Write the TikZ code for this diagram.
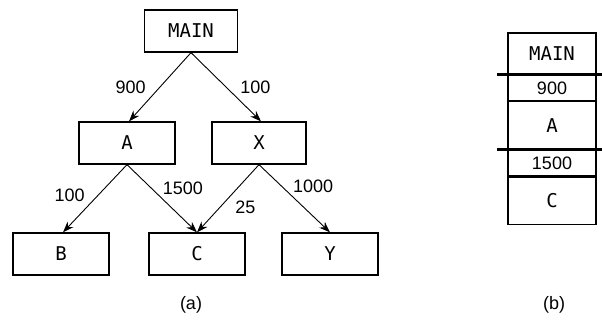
\documentclass[tikz,border=0pt]{standalone}
\usepackage{fontspec}
\setmainfont{Liberation Sans}
\newfontfamily\boxfont{DejaVu Sans Mono}
\usetikzlibrary{arrows.meta,positioning}
\tikzset{every picture/.style={line width=0.75pt}}
\tikzset{
  prog/.style={draw,line width=1.3pt,minimum width=96pt,minimum height=42pt,inner sep=0pt,
    font=\boxfont\fontsize{19}{22}\selectfont},
  cell/.style={draw,line width=1.3pt,minimum width=88pt,inner sep=0pt,
    font=\boxfont\fontsize{19}{22}\selectfont},
  call/.style={-{Stealth[length=11pt,width=8pt]},line width=0.9pt},
  cnt/.style={font=\fontsize{18}{21}\selectfont,inner sep=0pt}
}

\begin{document}
\begin{tikzpicture}[x=1pt,y=-1pt]
    \useasboundingbox (0,0) rectangle (602,325);

    % Call graph (a)
    \node[prog,minimum width=93pt] (main) at (191,31) {MAIN};
    \node[prog] (a) at (127,143) {A};
    \node[prog,minimum width=94pt] (x) at (259,143) {X};
    \node[prog] (b) at (61,254) {B};
    \node[prog] (c) at (197,254) {C};
    \node[prog] (y) at (330,254) {Y};

    \draw[call] (main.south) -- node[cnt,pos=0.5,left=14pt] {900} ([xshift=2pt]a.north);
    \draw[call] (main.south) -- node[cnt,pos=0.5,right=14pt] {100} ([xshift=2pt]x.north);
    \draw[call] (a.south) -- node[cnt,pos=0.45,left=13pt] {100} ([xshift=2pt]b.north);
    \draw[call] (a.south) -- node[cnt,pos=0.35,right=11pt] {1500} (c.north);
    \draw[call] (x.south) -- node[cnt,pos=0.63,right=15pt] {25} (c.north);
    \draw[call] (x.south) -- node[cnt,pos=0.32,right=11pt] {1000} (y.north);

    \node[cnt] (capa) at (191,305) {(a)};

    % Call stack (b)
    \node[cell,minimum height=41pt] (s0) at (552,53.5) {MAIN};
    \node[cell,minimum height=25pt,below=0pt of s0,font=\fontsize{18}{21}\selectfont] (s1) {900};
    \node[cell,minimum height=47pt,below=0pt of s1] (s2) {A};
    \node[cell,minimum height=26pt,below=0pt of s2,font=\fontsize{18}{21}\selectfont] (s3) {1500};
    \node[cell,minimum height=47pt,below=0pt of s3] (s4) {C};

    % Frame boundaries
    \draw[line width=2.5pt] ([xshift=-10pt]s1.north west) -- ([xshift=6pt]s1.north east);
    \draw[line width=2.5pt] ([xshift=-10pt]s3.north west) -- ([xshift=6pt]s3.north east);

    \node[cnt] (capb) at (554,305) {(b)};
\end{tikzpicture}
\end{document}
